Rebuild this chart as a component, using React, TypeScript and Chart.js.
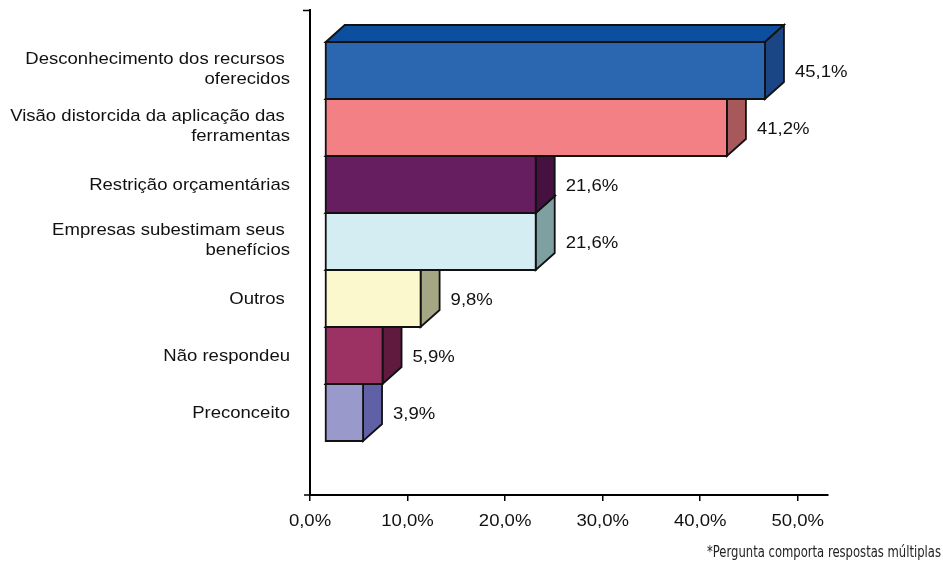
import React, { useEffect, useRef } from "react";
import { Chart, registerables } from "chart.js";

Chart.register(...registerables);

// Survey answers (multiple answers allowed), in percent
const categories: string[][] = [
  ["Desconhecimento dos recursos ", "oferecidos"],
  ["Visão distorcida da aplicação das ", "ferramentas"],
  ["Restrição orçamentárias"],
  ["Empresas subestimam seus ", "benefícios"],
  ["Outros "],
  ["Não respondeu"],
  ["Preconceito"],
];
const shares = [45.1, 41.2, 21.6, 21.6, 9.8, 5.9, 3.9];
const xTicks = [0, 10, 20, 30, 40, 50];

const frontColors = ["#2B67B1", "#F28084", "#661E60", "#D3EDF3", "#FBF8CE", "#9C3163", "#9A99CC"];
const sideColors = ["#1B4686", "#A8575A", "#441140", "#7FA0A0", "#A4A684", "#5F1A3E", "#5F60A6"];
const topColors = ["#0B4F9E", "#F5A3A6", "#7D3577", "#E6F5F8", "#FDFBE4", "#B04A7A", "#B4B3DB"];

const footnote = "*Pergunta comporta respostas múltiplas";

const FONT = "'Liberation Sans', Arial, sans-serif";
const TEXT_STRETCH = 1.09;

const fmtPct = (v: number) => v.toFixed(1).replace(".", ",") + "%";

// Text drawn slightly widened, as in the original Excel export
function wideText(
  ctx: CanvasRenderingContext2D,
  text: string,
  x: number,
  y: number,
  align: CanvasTextAlign
) {
  ctx.save();
  ctx.translate(x, y);
  ctx.scale(TEXT_STRETCH, 1);
  ctx.textAlign = align;
  ctx.textBaseline = "middle";
  ctx.fillText(text, 0, 0);
  ctx.restore();
}

// Draws each bar as an extruded box: top face, right side face, front face
const boxBars = {
  id: "boxBars",
  afterDatasetsDraw(chart: any) {
    const ctx: CanvasRenderingContext2D = chart.ctx;
    const meta = chart.getDatasetMeta(0);
    const yScale = chart.scales.y;
    const shift = 15;
    const dx = 19;
    const dy = 17;

    const face = (pts: number[][], fill: string) => {
      ctx.beginPath();
      ctx.moveTo(pts[0][0], pts[0][1]);
      for (let k = 1; k < pts.length; k++) ctx.lineTo(pts[k][0], pts[k][1]);
      ctx.closePath();
      ctx.fillStyle = fill;
      ctx.fill();
      ctx.stroke();
    };

    ctx.save();
    ctx.lineWidth = 1.8;
    ctx.strokeStyle = "#111";
    ctx.lineJoin = "miter";

    const ends: { x: number; y: number }[] = [];
    for (let i = meta.data.length - 1; i >= 0; i--) {
      const bar = meta.data[i];
      const { x, base } = bar.getProps(["x", "base"], true);
      const x0 = base + shift;
      const x1 = x + shift;
      const y0 = yScale.getPixelForValue(i - 0.5);
      const y1 = yScale.getPixelForValue(i + 0.5);
      face([[x0, y0], [x0 + dx, y0 - dy], [x1 + dx, y0 - dy], [x1, y0]], topColors[i]);
      face([[x1, y0], [x1 + dx, y0 - dy], [x1 + dx, y1 - dy], [x1, y1]], sideColors[i]);
      face([[x0, y0], [x1, y0], [x1, y1], [x0, y1]], frontColors[i]);
      ends[i] = { x: x1 + dx, y: (y0 + y1) / 2 };
    }

    ctx.fillStyle = "#111";
    ctx.font = `17px ${FONT}`;
    ends.forEach((e, i) => wideText(ctx, fmtPct(shares[i]), e.x + 11, e.y + 1.5, "left"));
    ctx.restore();
  },
  afterDraw(chart: any) {
    const ctx: CanvasRenderingContext2D = chart.ctx;
    const { left, top, bottom } = chart.chartArea;
    const xScale = chart.scales.x;
    const yScale = chart.scales.y;
    ctx.save();

    // small end ticks on the category axis
    ctx.strokeStyle = "#000";
    ctx.lineWidth = 1.5;
    ctx.beginPath();
    ctx.moveTo(left - 7, top + 0.5);
    ctx.lineTo(left, top + 0.5);
    ctx.moveTo(left - 6, bottom);
    ctx.lineTo(left, bottom);
    ctx.stroke();

    // axis labels
    ctx.fillStyle = "#111";
    ctx.font = `17px ${FONT}`;
    const lineH = 20.5;
    categories.forEach((lines, i) => {
      const cy = yScale.getPixelForValue(i);
      const firstY = cy - ((lines.length - 1) * lineH) / 2;
      const nudge = lines.length > 1 ? -1 : 1;
      lines.forEach((ln, k) => wideText(ctx, ln, left - 20, firstY + k * lineH + nudge, "right"));
    });
    xTicks.forEach((v) => {
      wideText(ctx, fmtPct(v), xScale.getPixelForValue(v), bottom + 26, "center");
    });

    // footnote
    ctx.font = `15px 'DejaVu Sans Condensed', 'Liberation Sans Narrow', sans-serif`;
    const w = ctx.measureText(footnote).width;
    const target = 234;
    ctx.translate(chart.width - 2, 553);
    ctx.scale(target / w, 1);
    ctx.fillStyle = "#222";
    ctx.textAlign = "right";
    ctx.textBaseline = "middle";
    ctx.fillText(footnote, 0, 0);
    ctx.restore();
  },
};

export default function App() {
  const canvasRef = useRef<HTMLCanvasElement | null>(null);

  useEffect(() => {
    if (!canvasRef.current) return;
    const chart = new Chart(canvasRef.current, {
      type: "bar",
      data: {
        datasets: [
          {
            data: shares.map((v, i) => ({ x: v, y: i })),
            backgroundColor: "rgba(0,0,0,0)",
            borderWidth: 0,
            categoryPercentage: 1,
            barPercentage: 1,
          },
        ],
      },
      options: {
        indexAxis: "y",
        animation: false,
        responsive: true,
        maintainAspectRatio: false,
        layout: { padding: { top: 10, right: 115, left: 0, bottom: 0 } },
        plugins: {
          legend: { display: false },
          tooltip: { enabled: false },
        },
        scales: {
          x: {
            type: "linear",
            min: 0,
            max: 53.1,
            offset: false,
            afterBuildTicks: (scale: any) => {
              scale.ticks = xTicks.map((v) => ({ value: v }));
            },
            afterFit: (scale: any) => {
              scale.height = 74;
              scale.paddingLeft = 0;
              scale.paddingRight = 0;
            },
            ticks: { display: false },
            grid: {
              display: true,
              offset: false,
              drawOnChartArea: false,
              drawTicks: true,
              tickLength: 6,
              color: "#000",
              lineWidth: 1.5,
            },
            border: { display: true, color: "#000", width: 2 },
          },
          y: {
            type: "linear",
            reverse: true,
            offset: false,
            min: -1.061,
            max: 7.447,
            afterBuildTicks: (scale: any) => {
              scale.ticks = categories.map((_, i) => ({ value: i }));
            },
            afterFit: (scale: any) => {
              scale.width = 310;
              scale.paddingTop = 0;
              scale.paddingBottom = 0;
            },
            ticks: { display: false },
            grid: { display: false, offset: false, drawTicks: false },
            border: { display: true, color: "#000", width: 2 },
          },
        },
      },
      plugins: [boxBars],
    } as any);
    return () => chart.destroy();
  }, []);

  return (
    <div style={{ position: "absolute", left: 0, top: 0, width: 943, height: 569, background: "#fff" }}>
      <canvas ref={canvasRef} />
    </div>
  );
}
